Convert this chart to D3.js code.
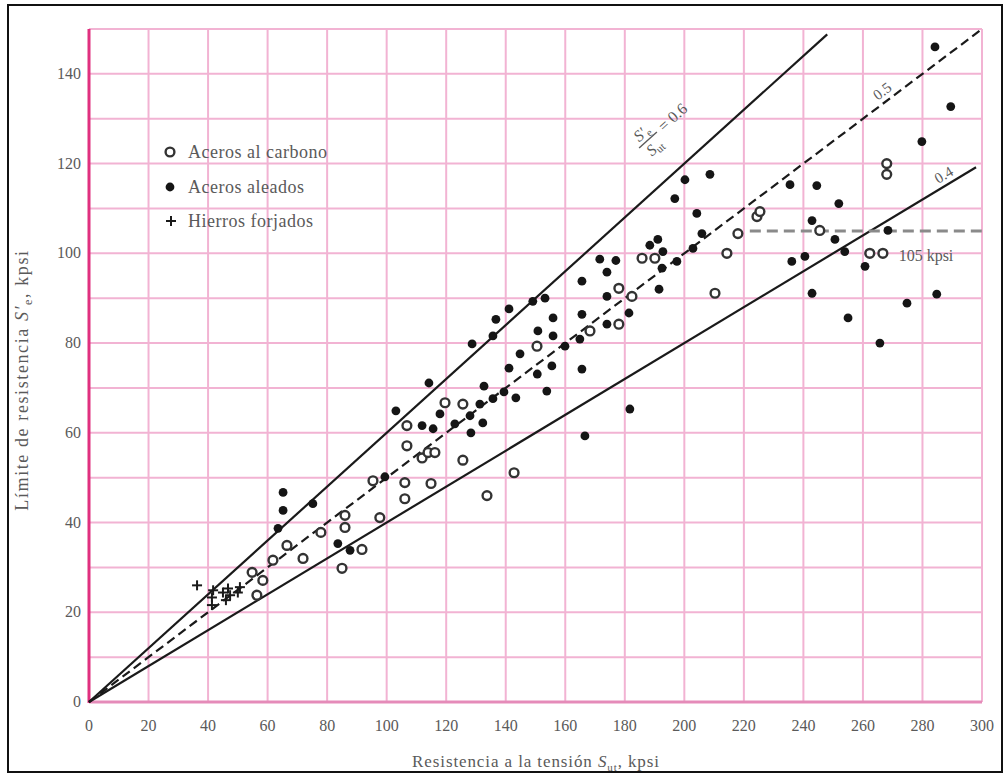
<!DOCTYPE html>
<html><head><meta charset="utf-8">
<script src="https://cdn.jsdelivr.net/npm/d3@7"></script>
<style>
html,body{margin:0;padding:0;background:#fff;}
text{font-family:"Liberation Serif","DejaVu Serif",serif;}
</style></head>
<body>
<svg id="c" width="1006" height="775"></svg>
<script>
// ---- data ----
const xTicks = [0,20,40,60,80,100,120,140,160,180,200,220,240,260,280,300];
const yTicks = [0,20,40,60,80,100,120,140];
const ratios = [0.6, 0.5, 0.4];
const ratioEnds = [248, 300, 298];
const enduranceLimit = 105;
const enduranceStart = 222;

const carbonSteels = [
 [54.8,28.9],[58.4,27.1],[56.4,23.8],[61.8,31.6],[66.5,34.9],[71.9,32.0],[77.9,37.8],[86.0,41.6],[86.0,38.9],[85.0,29.8],
 [91.7,34.0],[97.7,41.1],[95.4,49.3],[106.1,48.9],[106.1,45.3],[106.8,61.6],[106.8,57.1],[111.9,54.4],[113.9,55.6],[116.2,55.6],
 [114.9,48.7],[119.6,66.7],[125.6,66.4],[125.6,53.9],[133.7,46.0],[142.8,51.1],[150.5,79.3],[168.3,82.7],[178.0,84.2],[178.0,92.2],
 [182.4,90.4],[185.8,98.9],[190.1,98.9],[210.3,91.1],[214.3,100.0],[218.0,104.4],[224.4,108.2],[225.4,109.3],[245.5,105.1],
 [262.3,100.0],[266.7,100.0],[268.0,120.0],[268.0,117.6]
];
const alloySteels = [
 [65.2,46.7],[65.2,42.7],[63.5,38.7],[75.2,44.2],[83.6,35.3],[87.7,33.8],[99.4,50.2],[103.1,64.9],[114.2,71.1],[111.9,61.6],
 [115.6,60.9],[117.9,64.2],[122.9,62.0],[128.0,63.8],[128.3,60.0],[131.3,66.4],[132.3,62.2],[132.7,70.4],[135.7,67.6],[139.4,69.1],
 [143.4,67.8],[141.1,74.4],[144.8,77.6],[128.7,79.8],[135.7,81.6],[136.7,85.3],[141.1,87.6],[149.1,89.3],[153.2,90.0],[150.8,82.7],
 [150.6,73.1],[155.9,85.6],[155.9,81.6],[159.9,79.3],[164.9,80.9],[155.5,74.9],[153.8,69.3],[165.6,74.2],[165.6,86.4],[165.6,93.8],
 [174.0,90.4],[174.0,84.2],[171.6,98.7],[177.0,98.4],[174.0,95.8],[181.4,86.7],[181.7,65.3],[166.6,59.3],[188.4,101.8],[191.1,103.1],
 [192.8,100.4],[192.5,96.7],[191.5,92.0],[197.5,98.2],[196.8,112.2],[200.2,116.4],[208.6,117.6],[204.2,108.9],[205.9,104.4],[202.9,101.1],
 [235.5,115.3],[244.5,115.1],[251.9,111.1],[242.9,107.3],[250.6,103.1],[253.9,100.4],[260.7,97.1],[268.4,105.1],[236.1,98.2],[240.5,99.3],
 [242.9,91.1],[255.0,85.6],[265.7,80.0],[274.8,88.9],[284.8,90.9],[279.8,124.9],[289.5,132.7],[284.2,146.0]
];
const wroughtIrons = [
 [36.3,26.0],[41.3,23.3],[41.3,21.6],[41.7,24.9],[45.0,24.4],[46.7,25.3],[47.4,23.8],[50.0,24.4],[50.7,25.6],[46.0,22.7]
];
const legendLabels = ["Aceros al carbono","Aceros aleados","Hierros forjados"];

// ---- layout ----
const svg = d3.select("#c");
const x = d3.scaleLinear().domain([0,300]).range([89,982]);
const y = d3.scaleLinear().domain([0,150]).range([702,29]);
const gridPink = "#f2b3d3", textCol = "#5a5a5a", ink = "#1a1a1a";

svg.append("rect").attr("x",8).attr("y",5).attr("width",994).attr("height",767)
  .attr("fill","#fff").attr("stroke","#111").attr("stroke-width",2);

// grid
const g = svg.append("g");
g.selectAll(".vg").data(d3.range(20,301,20)).join("line")
  .attr("x1",d=>x(d)).attr("x2",d=>x(d)).attr("y1",y(150)).attr("y2",y(0))
  .attr("stroke",gridPink).attr("stroke-width",2);
g.selectAll(".hg").data(d3.range(10,151,10)).join("line")
  .attr("y1",d=>y(d)).attr("y2",d=>y(d)).attr("x1",x(0)).attr("x2",x(300))
  .attr("stroke",gridPink).attr("stroke-width",2);
g.append("line").attr("x1",x(0)).attr("x2",x(300)).attr("y1",y(0)).attr("y2",y(0))
  .attr("stroke","#e58bb9").attr("stroke-width",3);
g.append("line").attr("x1",x(0)).attr("x2",x(0)).attr("y1",y(0)+1).attr("y2",y(150))
  .attr("stroke","#e0307f").attr("stroke-width",3);

// tick labels
svg.selectAll(".xt").data(xTicks).join("text")
  .attr("x",d=>x(d)).attr("y",731).attr("text-anchor","middle")
  .attr("font-size",16).attr("fill",textCol).text(d=>d);
svg.selectAll(".yt").data(yTicks).join("text")
  .attr("x",81).attr("y",d=>y(d)+5).attr("text-anchor","end")
  .attr("font-size",16).attr("fill",textCol).text(d=>d);

// axis titles
const xt = svg.append("text").attr("x",536).attr("y",767).attr("text-anchor","middle")
  .attr("font-size",17).attr("letter-spacing",0.9).attr("fill",textCol);
xt.append("tspan").text("Resistencia a la tensión ");
xt.append("tspan").attr("font-style","italic").text("S");
xt.append("tspan").attr("font-size",11).attr("dy",4).text("ut");
xt.append("tspan").attr("dy",-4).text(", kpsi");

const yt = svg.append("text").attr("transform","translate(28,380) rotate(-90)")
  .attr("text-anchor","middle").attr("font-size",18).attr("letter-spacing",1.6).attr("fill",textCol);
yt.append("tspan").text("Límite de resistencia ");
yt.append("tspan").attr("font-style","italic").text("S′");
yt.append("tspan").attr("font-size",12).attr("dy",4).text("e");
yt.append("tspan").attr("dy",-4).text(", kpsi");

// ratio lines
ratios.forEach((r,i)=>{
  svg.append("line").attr("x1",x(0)).attr("y1",y(0)).attr("x2",x(ratioEnds[i])).attr("y2",y(r*ratioEnds[i]))
    .attr("stroke",ink).attr("stroke-width",2.2)
    .attr("stroke-dasharray", r===0.5 ? "9,5" : null);
});
// endurance limit line
svg.append("line").attr("x1",x(enduranceStart)).attr("x2",x(300)).attr("y1",y(enduranceLimit)).attr("y2",y(enduranceLimit))
  .attr("stroke","#8a8a8a").attr("stroke-width",3).attr("stroke-dasharray","11,6");
svg.append("text").attr("x",x(272)).attr("y",y(enduranceLimit)+30).attr("font-size",16).attr("fill",textCol).text("105 kpsi");

// line labels
const ang = r => -Math.atan(r*(y(0)-y(1))/(x(1)-x(0)))*180/Math.PI;
svg.append("text").attr("transform",`translate(${x(267.5)},${y(133.7)-7}) rotate(${ang(0.5)})`)
  .attr("font-size",15).attr("fill",textCol).attr("text-anchor","middle").text("0.5");
svg.append("text").attr("transform",`translate(${x(288)},${y(115.2)-6}) rotate(${ang(0.4)})`)
  .attr("font-size",15).attr("fill",textCol).attr("text-anchor","middle").text("0.4");
const fl = svg.append("g").attr("transform",`translate(648,140) rotate(${ang(0.6)})`)
  .attr("fill",textCol).attr("font-size",16);
const num = fl.append("text").attr("x",0).attr("y",-4).attr("text-anchor","middle");
num.append("tspan").attr("font-style","italic").text("S′");
num.append("tspan").attr("font-size",11).attr("dy",3).text("e");
fl.append("line").attr("x1",-12).attr("x2",12).attr("y1",0).attr("y2",0).attr("stroke",textCol).attr("stroke-width",1.4);
const den = fl.append("text").attr("x",0).attr("y",15).attr("text-anchor","middle");
den.append("tspan").attr("font-style","italic").text("S");
den.append("tspan").attr("font-size",11).attr("dy",3).text("ut");
fl.append("text").attr("x",17).attr("y",5).text("= 0.6");

// points
svg.selectAll(".cs").data(carbonSteels).join("circle")
  .attr("cx",d=>x(d[0])).attr("cy",d=>y(d[1])).attr("r",4.4)
  .attr("fill","#fff").attr("stroke","#333").attr("stroke-width",2.4);
svg.selectAll(".as").data(alloySteels).join("circle")
  .attr("cx",d=>x(d[0])).attr("cy",d=>y(d[1])).attr("r",4.4)
  .attr("fill","#151515");
const cross = (sel, cx, cy) => {
  sel.append("line").attr("x1",cx-5).attr("x2",cx+5).attr("y1",cy).attr("y2",cy).attr("stroke",ink).attr("stroke-width",2);
  sel.append("line").attr("x1",cx).attr("x2",cx).attr("y1",cy-5).attr("y2",cy+5).attr("stroke",ink).attr("stroke-width",2);
};
const wg = svg.append("g");
wroughtIrons.forEach(d=>cross(wg, x(d[0]), y(d[1])));

// legend
const lg = svg.append("g");
const ly = [152, 187, 221];
lg.append("circle").attr("cx",170).attr("cy",ly[0]).attr("r",4.4).attr("fill","#fff").attr("stroke","#333").attr("stroke-width",2.4);
lg.append("circle").attr("cx",170).attr("cy",ly[1]).attr("r",4.4).attr("fill","#151515");
cross(lg, 171, ly[2]);
lg.selectAll("text").data(legendLabels).join("text")
  .attr("x",188).attr("y",(d,i)=>ly[i]+6).attr("font-size",18).attr("letter-spacing",0.5).attr("fill",textCol).text(d=>d);
</script>
</body></html>
